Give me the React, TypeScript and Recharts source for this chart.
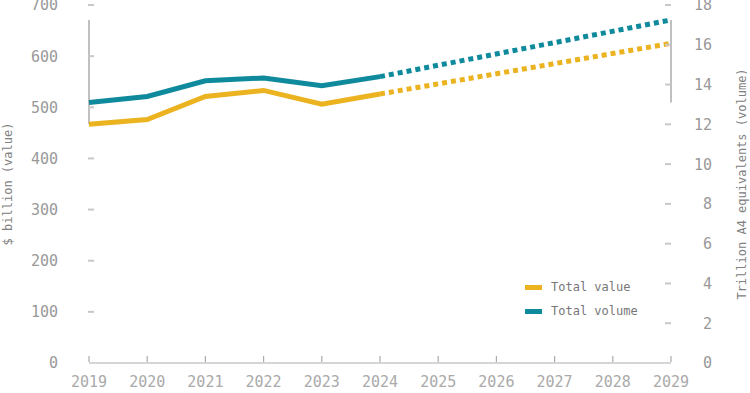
import React from 'react';
import { LineChart, Line, XAxis, YAxis, Legend, ReferenceLine } from 'recharts';

const years = [2019, 2020, 2021, 2022, 2023, 2024, 2025, 2026, 2027, 2028, 2029];

// $ billion, actual and projected
const valueActual = [467, 476, 521, 533, 506, 526, null, null, null, null, null];
const valueForecast = [null, null, null, null, null, 526, null, null, null, null, 625];

// trillion A4 equivalents, actual and projected
const volumeActual = [13.1, 13.4, 14.19, 14.33, 13.94, 14.4, null, null, null, null, null];
const volumeForecast = [null, null, null, null, null, 14.4, null, null, null, null, 17.25];

const valueTicks = [0, 100, 200, 300, 400, 500, 600, 700];
const volumeTicks = [0, 2, 4, 6, 8, 10, 12, 14, 16, 18];

const legendItems = [
  { label: 'Total value', color: '#EBB320' },
  { label: 'Total volume', color: '#0F8A9C' },
];

const YELLOW = '#EBB320';
const TEAL = '#0F8A9C';
const AXIS = '#ababab';
const FONT = '"DejaVu Sans Mono", monospace';

const data = years.map((year, i) => ({
  year,
  value: valueActual[i],
  valueProj: valueForecast[i],
  volume: volumeActual[i],
  volumeProj: volumeForecast[i],
}));

const nums = (arr: (number | null)[]) => arr.filter((v): v is number => v !== null);
const allValues = nums([...valueActual, ...valueForecast]);
const allVolumes = nums([...volumeActual, ...volumeForecast]);
const valueMax = valueTicks[valueTicks.length - 1];
const volumeMax = volumeTicks[volumeTicks.length - 1];
const volToValue = valueMax / volumeMax;

// range-frame axis lines
const leftFrom = Math.min(...allValues, ...allVolumes.map((v) => v * volToValue));
const leftTo = Math.max(...allValues, ...allVolumes.map((v) => v * volToValue));
const rightFrom = Math.min(...allVolumes);
const rightTo = Math.max(...allVolumes);

const LeftTick = (props: any) => {
  const { x, y, payload } = props;
  return (
    <g>
      {payload.value !== 0 && (
        <line x1={x + 30} x2={x + 36} y1={y} y2={y} stroke="#c8c8c8" strokeWidth={2} />
      )}
      <text x={x} y={y} dy="0.36em" textAnchor="end" fill="#999" fontSize={15} fontFamily={FONT}>
        {payload.value}
      </text>
    </g>
  );
};

const RightTick = (props: any) => {
  const { x, y, payload } = props;
  return (
    <g>
      {payload.value !== 0 && (
        <line x1={x - 29} x2={x - 23} y1={y} y2={y} stroke="#c8c8c8" strokeWidth={2} />
      )}
      <text x={x + 18} y={y} dy="0.36em" textAnchor="end" fill="#999" fontSize={15} fontFamily={FONT}>
        {payload.value}
      </text>
    </g>
  );
};

const BottomTick = (props: any) => {
  const { x, y, payload } = props;
  return (
    <g>
      <line x1={x} x2={x} y1={y - 7} y2={y - 1} stroke={AXIS} strokeWidth={1.2} />
      <text x={x} y={y + 24} textAnchor="middle" fill="#aaa" fontSize={15} fontFamily={FONT}>
        {payload.value}
      </text>
    </g>
  );
};

const AxisTitle = (props: any) => {
  const { viewBox, text, side } = props;
  const cx = side === 'left' ? 8 : viewBox.x + viewBox.width - 8;
  const cy = viewBox.y + viewBox.height / 2;
  return (
    <text
      x={cx}
      y={cy}
      transform={`rotate(-90, ${cx}, ${cy})`}
      textAnchor="middle"
      dominantBaseline="central"
      fill="#808080"
      fontSize={12}
      fontFamily={FONT}
    >
      {text}
    </text>
  );
};

const renderLegend = () => (
  <div style={{ fontFamily: FONT, fontSize: 12, color: '#777' }}>
    {legendItems.map((item) => (
      <div key={item.label} style={{ display: 'flex', alignItems: 'center', height: 24 }}>
        <span style={{ width: 17, height: 5, background: item.color, marginRight: 9 }} />
        <span>{item.label}</span>
      </div>
    ))}
  </div>
);

export default function App() {
  return (
    <div style={{ position: 'absolute', left: 0, top: 0, background: '#fff' }}>
      <LineChart width={750} height={393} data={data} margin={{ top: 5, right: 0, bottom: 0, left: 0 }}>
        <XAxis
          dataKey="year"
          height={30}
          tickSize={0}
          tickMargin={0}
          tickLine={false}
          axisLine={{ stroke: AXIS, strokeWidth: 1.2 }}
          tick={<BottomTick />}
          interval={0}
        />
        <YAxis
          yAxisId="left"
          orientation="left"
          width={89}
          domain={[0, valueMax]}
          ticks={valueTicks}
          tickSize={0}
          tickMargin={31}
          tickLine={false}
          axisLine={false}
          tick={<LeftTick />}
          interval={0}
          label={<AxisTitle side="left" text="$ billion (value)" />}
        />
        <YAxis
          yAxisId="right"
          orientation="right"
          width={79}
          domain={[0, volumeMax]}
          ticks={volumeTicks}
          tickSize={0}
          tickMargin={23}
          tickLine={false}
          axisLine={false}
          tick={<RightTick />}
          interval={0}
          label={<AxisTitle side="right" text="Trillion A4 equivalents (volume)" />}
        />
        <ReferenceLine
          yAxisId="left"
          segment={[{ x: years[0], y: leftFrom }, { x: years[0], y: leftTo }]}
          stroke={AXIS}
          strokeWidth={1.5}
        />
        <ReferenceLine
          yAxisId="right"
          segment={[{ x: years[years.length - 1], y: rightFrom }, { x: years[years.length - 1], y: rightTo }]}
          stroke={AXIS}
          strokeWidth={1.5}
        />
        <Line yAxisId="left" dataKey="value" stroke={YELLOW} strokeWidth={5} dot={false} isAnimationActive={false} />
        <Line
          yAxisId="left"
          dataKey="valueProj"
          stroke={YELLOW}
          strokeWidth={5}
          strokeDasharray="5 4"
          dot={false}
          connectNulls
          isAnimationActive={false}
        />
        <Line yAxisId="right" dataKey="volume" stroke={TEAL} strokeWidth={5} dot={false} isAnimationActive={false} />
        <Line
          yAxisId="right"
          dataKey="volumeProj"
          stroke={TEAL}
          strokeWidth={5}
          strokeDasharray="5 4"
          dot={false}
          connectNulls
          isAnimationActive={false}
        />
        <Legend
          layout="vertical"
          align="center"
          verticalAlign="middle"
          content={renderLegend}
          wrapperStyle={{ left: 525, top: 275, width: 160 }}
        />
      </LineChart>
    </div>
  );
}
